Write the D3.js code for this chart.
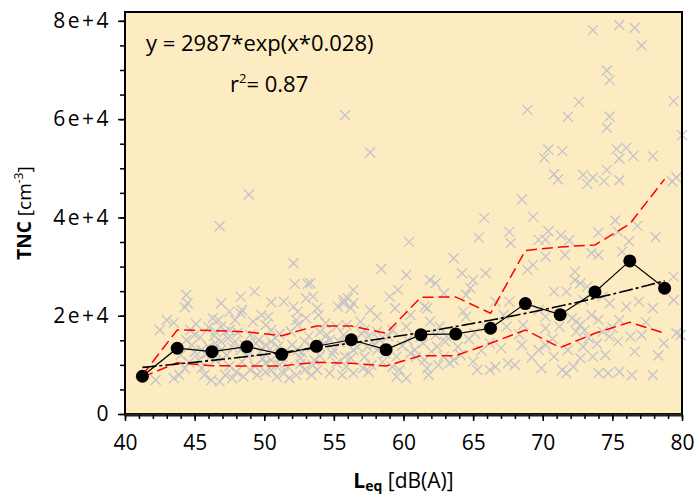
<!DOCTYPE html>
<html>
<head>
<meta charset="utf-8">
<script src="https://cdn.jsdelivr.net/npm/d3@7"></script>
<style>
  body { margin: 0; background: #fff; }
  text { font-family: "Open Sans", "Noto Sans", sans-serif; fill: #000; }
</style>
</head>
<body>
<div id="svg_chart"></div>
<script>
// binned statistics (bin centres, dB(A))
var bin_centers = [41.25, 43.75, 46.25, 48.75, 51.25, 53.75, 56.25, 58.75, 61.25, 63.75, 66.25, 68.75, 71.25, 73.75, 76.25, 78.75];
var bin_mean  = [7680, 13380, 12680, 13700, 12150, 13780, 15110, 13090, 16150, 16290, 17450, 22460, 20220, 24840, 31150, 25590];
var bin_upper = [7900, 17100, 17000, 16700, 15940, 17920, 17920, 16430, 23760, 23820, 20500, 33250, 34000, 34410, 38680, 47800];
var bin_lower = [7500, 10440, 9830, 9770, 9770, 10530, 10320, 9770, 11870, 11870, 14390, 17100, 13500, 16430, 18670, 16430];

// exponential fit y = a*exp(x*b)
var fit_a = 2987;
var fit_b = 0.028;

var x_ticks = [40, 45, 50, 55, 60, 65, 70, 75, 80];
var y_ticks = [0, 20000, 40000, 60000, 80000];

// single measurements [Leq, TNC]
var raw_points = [
  [55.8,60800],[57.6,53200],[48.9,44650],[46.8,38220],[73.6,78120],[75.5,79140],[76.6,78590],[77.1,74990],
  [74.6,69900],[74.8,67940],[72.6,63520],[79.4,63670],[68.9,61890],[71.8,60470],[74.8,60530],[74.6,58230],
  [80.0,56740],[70.4,53810],[70.1,52120],[71.4,53490],[75.3,53890],[76.0,54160],[75.5,51980],[76.5,52530],
  [77.9,52470],[70.8,48800],[71.1,47700],[72.9,48660],[73.6,48110],[73.2,46830],[74.6,49680],[74.4,47380],
  [75.5,47580],[79.3,47300],[79.6,48110],[68.5,43630],[65.8,39910],[69.3,40110],[75.2,39360],[65.4,35890],
  [67.6,37060],[67.7,34750],[60.4,35020],[69.7,35430],[70.2,35490],[70.4,37200],[71.3,36380],[71.9,35370],
  [74.0,36910],[76.8,38280],[78.1,35980],[76.2,35160],[75.4,37060],[63.6,31700],[58.4,29520],[64.2,28650],
  [65.9,28650],[52.1,30680],
  [52.2,26470],[53.1,26470],[49.3,24900],[44.4,24230],[44.5,22540],[44.3,21720],[46.9,22540],[48.3,23880],
  [48.4,21170],[48.3,20500],[50.5,22740],[51.4,22860],[52.1,21850],[52.4,20830],[53.0,23560],[47.5,20830],
  [46.3,19480],[43.0,19140],[43.5,18590],[42.5,17100],[45.1,18320],[45.0,16080],[46.7,19140],[46.9,17770],
  [47.2,16760],[46.5,16760],[46.0,17650],[47.9,19140],[47.5,17100],[49.2,18790],[49.8,20160],[50.3,19810],
  [50.1,18120],[50.5,17100],[52.3,19140],[52.4,18120],[53.0,19480],[44.4,15070],[44.8,14050],[45.5,13030],
  [46.0,13700],[46.5,14390],[46.9,14720],[47.4,15410],[47.9,14720],[48.3,13030],[46.9,13030],[49.6,15070],
  [50.1,14050],[50.5,14720],[51.0,13700],[52.0,14050],[52.4,13030],[52.9,14720],[53.4,13700],[42.2,6920],
  [43.5,7270],[43.9,7940],[44.3,9300],[45.5,9300],[45.7,7940],[46.2,6920],[46.8,6580],[47.2,7940],
  [47.7,7270],[48.0,8610],[48.5,7590],[49.0,8960],[49.5,7940],[50.1,8610],[50.5,8960],[50.9,7590],
  [51.4,8290],[51.8,7270],[52.3,7940],[52.9,8960],[53.4,7940],[51.7,9630],[50.1,10320],[48.4,10650],
  [46.5,10990],[50.5,10990],[45.3,10990],
  [60.2,28300],[61.9,27280],[62.3,26610],[65.0,27280],[64.8,25590],[53.3,26610],[56.4,25250],[56.0,23560],
  [55.7,23210],[59.6,25250],[59.0,23880],[62.9,24570],[64.5,24230],[66.6,22860],[53.5,23880],[53.8,21520],
  [53.9,20160],[55.3,21850],[56.2,21520],[56.4,22540],[57.6,21170],[58.1,19810],[59.4,21520],[61.5,21850],
  [61.7,21520],[64.3,20830],[64.5,19810],[60.5,20160],[61.9,18790],[54.4,18470],[55.2,17770],[55.9,18120],
  [56.9,18790],[55.7,16080],[54.5,16080],[58.1,16760],[57.5,15740],[60.2,17770],[60.3,15070],[62.6,17770],
  [62.3,16080],[63.1,15740],[65.9,17770],[65.1,16430],[66.2,14390],[63.9,13700],[62.4,13700],[61.4,14390],
  [54.0,13700],[55.0,13030],[56.4,13030],[57.4,13700],[58.1,13030],[58.7,12360],[59.5,11670],[60.5,12360],
  [62.9,11670],[63.6,10990],[65.0,10650],[55.2,10320],[55.9,9630],[57.1,9300],[57.7,9980],[59.2,9630],
  [59.7,8960],[61.7,9300],[62.5,9980],[63.3,10320],[65.3,8960],[66.2,8960],[53.8,8960],[54.7,8290],
  [55.6,7940],[56.4,8290],[57.5,8610],[59.5,7590],[60.2,7270],[61.8,7940],[53.5,9980],[55.7,22540],
  [71.6,32370],[73.5,32720],[74.0,32370],[75.7,33040],[70.2,32030],[68.9,29320],[69.3,30340],[72.3,28970],
  [72.3,27280],[72.7,26610],[73.2,25920],[79.4,27950],[67.6,22860],[70.8,24900],[71.7,24900],[74.3,23880],
  [74.8,22540],[72.9,23210],[76.0,21850],[76.9,22860],[77.9,21520],[79.4,23210],[67.2,20160],[69.7,21170],
  [70.2,19810],[72.1,19480],[72.4,18790],[72.7,18120],[73.5,20160],[74.0,19140],[75.5,19140],[68.6,18120],
  [70.2,17450],[67.4,17770],[72.4,16760],[73.3,15410],[74.3,16760],[74.8,15740],[75.4,14720],[76.3,15740],
  [77.1,16080],[78.7,14390],[79.6,16430],[68.5,14050],[69.7,13030],[70.2,14050],[71.8,13030],[72.7,11340],
  [73.6,11670],[74.5,12010],[70.8,11670],[67.5,10320],[68.0,9980],[69.9,9300],[71.4,8960],[71.7,8290],
  [72.2,9630],[74.0,8290],[74.7,8290],[75.5,8610],[76.4,7940],[77.9,7940],[66.6,9630],[72.9,13700],
  [79.9,16080],
  [45.0,12620],[46.1,11600],[47.3,12010],[48.8,11810],[49.7,12620],[51.3,11600],[52.6,11400],[54.0,11810],
  [47.5,9770],[49.3,9770],[51.1,9980],[52.6,10180],[54.7,15070],[49.0,16080],[51.1,16290],[54.0,16690],
  [44.7,17100],[48.6,14050],[56.5,15070],[57.2,17100],[59.2,17100],[58.3,15070],[56.2,11400],[57.2,11600],
  [60.8,13030],[61.5,10990],
  [44.0,12000],[44.6,10500],[45.4,15600],[45.9,12300],[46.4,15900],[47.0,11200],[47.7,13600],[48.1,16600],
  [48.9,12900],[49.4,14400],[49.9,11300],[50.4,13200],[50.8,15500],[51.5,12800],[51.9,16800],[52.7,12500],
  [53.2,15800],[53.6,11000],[54.3,14300],[54.9,12200],[55.4,14600],[55.8,11700],[56.7,13600],[57.0,16300],
  [57.9,14200],[58.5,10600],[58.9,15800],[59.9,13900],[60.9,11600],[61.2,15600],[62.0,12700],[63.0,14700],
  [64.1,12000],[64.7,15200],[65.6,12900],[67.0,13400],[68.3,16200],[69.2,11500],[70.7,15300],[71.2,17800],
  [73.0,17000],[73.9,14300],[75.0,17600],[76.6,12700],[77.4,18700],[78.3,11900]
];

const svg_width = 696
const svg_height = 494
const plot_left = 125
const plot_right = 682
const plot_top = 12
const plot_bottom = 414

var svg = d3.select('#svg_chart').append('svg')
  .attr('width', svg_width)
  .attr('height', svg_height);

var x_scale = d3.scaleLinear()
  .domain([40, 80])
  .range([plot_left, plot_right]);

var y_scale = d3.scaleLinear()
  .domain([0, 81800])
  .range([plot_bottom, plot_top]);

// plot background
svg.append('rect')
  .attr('x', plot_left)
  .attr('y', plot_top)
  .attr('width', plot_right - plot_left)
  .attr('height', plot_bottom - plot_top)
  .attr('fill', '#fdebc2');

// scatter crosses
var cross = 5;
svg.append('g').selectAll('path')
  .data(raw_points)
  .enter()
  .append('path')
  .attr('d', function(d){
    var cx = x_scale(d[0]), cy = y_scale(d[1]);
    return `M${cx-cross},${cy-cross}L${cx+cross},${cy+cross}M${cx-cross},${cy+cross}L${cx+cross},${cy-cross}`;
  })
  .attr('stroke', '#c4c4c8')
  .attr('stroke-width', 1.3)
  .attr('fill', 'none');

var line_of = function(values){
  return d3.line()
    .x(function(d, i){ return x_scale(bin_centers[i]); })
    .y(function(d){ return y_scale(d); })(values);
};

// percentile bands
[bin_upper, bin_lower].forEach(function(values){
  svg.append('path')
    .attr('d', line_of(values))
    .attr('fill', 'none')
    .attr('stroke', '#ff0000')
    .attr('stroke-width', 1.5)
    .attr('stroke-dasharray', '11,5');
});

// exponential fit
var fit_x = d3.range(bin_centers[0], bin_centers[bin_centers.length-1] + 0.01, 0.25);
svg.append('path')
  .attr('d', d3.line()
    .x(function(d){ return x_scale(d); })
    .y(function(d){ return y_scale(fit_a * Math.exp(d * fit_b)); })(fit_x))
  .attr('fill', 'none')
  .attr('stroke', '#000')
  .attr('stroke-width', 1.6)
  .attr('stroke-dasharray', '14,3,3,3');

// bin means
svg.append('path')
  .attr('d', line_of(bin_mean))
  .attr('fill', 'none')
  .attr('stroke', '#000')
  .attr('stroke-width', 1.2);

svg.append('g').selectAll('circle')
  .data(bin_mean)
  .enter()
  .append('circle')
  .attr('cx', function(d, i){ return x_scale(bin_centers[i]); })
  .attr('cy', function(d){ return y_scale(d); })
  .attr('r', 6.5)
  .attr('fill', '#000');

// frame
svg.append('rect')
  .attr('x', plot_left)
  .attr('y', plot_top)
  .attr('width', plot_right - plot_left)
  .attr('height', plot_bottom - plot_top)
  .attr('fill', 'none')
  .attr('stroke', '#000')
  .attr('stroke-width', 2);
svg.append('line')
  .attr('x1', plot_left).attr('x2', plot_right)
  .attr('y1', plot_bottom + 1).attr('y2', plot_bottom + 1)
  .attr('stroke', '#222')
  .attr('stroke-width', 3);

// axes
var y_fmt = function(d){ return d === 0 ? '0' : (d / 10000) + 'e+4'; };

var y_minor = svg.append('g')
  .attr('transform', `translate(${plot_left},0)`)
  .call(d3.axisLeft(y_scale).tickValues(d3.range(0, 80001, 5000)).tickSize(5).tickFormat(''));
var y_axis = svg.append('g')
  .attr('transform', `translate(${plot_left},0)`)
  .call(d3.axisLeft(y_scale).tickValues(y_ticks).tickSize(7).tickPadding(7).tickFormat(y_fmt));

var x_minor = svg.append('g')
  .attr('transform', `translate(0,${plot_bottom + 1})`)
  .call(d3.axisBottom(x_scale).tickValues(d3.range(40, 80.5, 1)).tickSize(4).tickFormat(''));
var x_axis = svg.append('g')
  .attr('transform', `translate(0,${plot_bottom + 1})`)
  .call(d3.axisBottom(x_scale).tickValues(x_ticks).tickSize(6).tickPadding(14));

[y_minor, y_axis, x_minor, x_axis].forEach(function(g){
  g.select('.domain').remove();
  g.selectAll('line').attr('stroke', '#000').attr('stroke-width', 1.5);
  g.selectAll('text').style('font-size', '21px').attr('fill', '#000');
});
y_axis.selectAll('text').style('letter-spacing', '2.5px');

// fit annotation
svg.append('text')
  .attr('x', 146)
  .attr('y', 51)
  .style('font-size', '22px')
  .text('y = 2987*exp(x*0.028)');

var r_text = svg.append('text')
  .attr('x', 230)
  .attr('y', 92)
  .style('font-size', '22px');
r_text.append('tspan').text('r');
r_text.append('tspan').attr('dy', -9).style('font-size', '13px').text('2');
r_text.append('tspan').attr('dy', 9).text('= 0.87');

// axis titles
var y_title = svg.append('text')
  .attr('transform', `translate(31,${(plot_top + plot_bottom) / 2}) rotate(-90)`)
  .attr('text-anchor', 'middle')
  .style('font-size', '19px');
y_title.append('tspan').style('font-weight', 'bold').text('TNC');
y_title.append('tspan').text(' [cm');
y_title.append('tspan').attr('dy', -8).style('font-size', '12px').text('-3');
y_title.append('tspan').attr('dy', 8).text(']');

var x_title = svg.append('text')
  .attr('x', (plot_left + plot_right) / 2)
  .attr('y', 488)
  .attr('text-anchor', 'middle')
  .style('font-size', '21px');
x_title.append('tspan').style('font-weight', 'bold').text('L');
x_title.append('tspan').attr('dy', 3).style('font-weight', 'bold').style('font-size', '14px').text('eq');
x_title.append('tspan').attr('dy', -3).text(' [dB(A)]');
</script>
</body>
</html>
